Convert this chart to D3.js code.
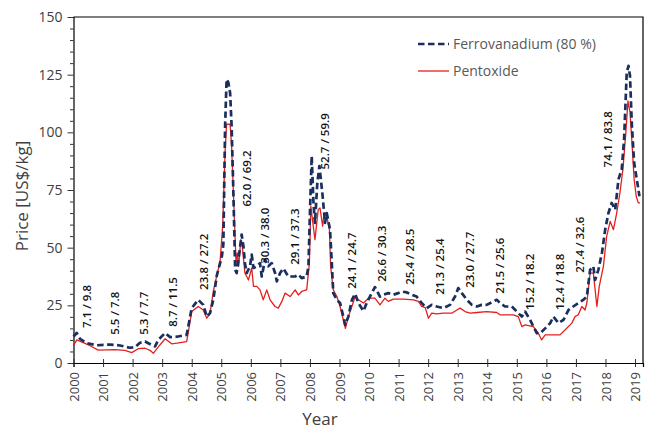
<!DOCTYPE html>
<html>
<head>
<meta charset="utf-8">
<script src="https://cdn.jsdelivr.net/npm/d3@7"></script>
<style>
  body { margin: 0; background: #fff; }
  svg { display: block; font-family: "Open Sans", sans-serif; }
</style>
</head>
<body>
<div id="chart"></div>
<script>
// decimal year, US$/kg
const ferro = [
    [2000.00, 11.5], [2000.11, 13], [2000.22, 10.5], [2000.45, 8.6], [2000.79, 7.7], [2001.24, 8.0],
    [2001.57, 7.6], [2001.91, 6.6], [2002.08, 6.9], [2002.25, 8.8], [2002.42, 9.3], [2002.65, 7.8],
    [2002.76, 7.2], [2002.87, 10], [2003.10, 13], [2003.27, 11.2], [2003.50, 11.4], [2003.83, 12.2],
    [2004.00, 23.8], [2004.22, 27.4], [2004.39, 25.2], [2004.51, 20.1], [2004.62, 21.6], [2004.73, 27.4],
    [2004.85, 38], [2005.02, 46.2], [2005.07, 51.3], [2005.13, 102.7], [2005.18, 123], [2005.24, 121.6],
    [2005.30, 117], [2005.35, 102.7], [2005.41, 73.8], [2005.47, 40.4], [2005.52, 39], [2005.64, 50.6],
    [2005.69, 55.7], [2005.75, 50.6], [2005.80, 43.3], [2005.86, 39], [2005.97, 41.9], [2006.03, 47],
    [2006.09, 41.2], [2006.20, 41.9], [2006.31, 43.3], [2006.37, 37.5], [2006.48, 44.8], [2006.59, 41.9],
    [2006.71, 43.3], [2006.82, 39], [2006.88, 35.4], [2006.99, 39], [2007.10, 41], [2007.27, 37.5],
    [2007.50, 37.5], [2007.61, 38.3], [2007.72, 36.8], [2007.89, 37.5], [2007.95, 42], [2008.00, 65],
    [2008.06, 89.7], [2008.12, 69.4], [2008.17, 60.7], [2008.25, 78], [2008.32, 85.4], [2008.37, 79.6],
    [2008.43, 72.3], [2008.51, 60.7], [2008.57, 65], [2008.68, 57.8], [2008.74, 43.3], [2008.79, 30.3],
    [2008.91, 27.4], [2009.02, 26], [2009.13, 20.1], [2009.19, 16.5], [2009.30, 20.1], [2009.42, 27.4],
    [2009.53, 30], [2009.64, 26], [2009.81, 22.5], [2009.92, 26], [2010.03, 28.8], [2010.20, 32.9],
    [2010.37, 28.8], [2010.48, 29.6], [2010.65, 30.3], [2010.82, 29.6], [2010.99, 30.3], [2011.11, 31],
    [2011.28, 30.6], [2011.45, 29.6], [2011.61, 28.8], [2011.78, 26], [2011.95, 23.8], [2012.12, 25.2],
    [2012.29, 24.5], [2012.51, 23.8], [2012.74, 25.2], [2012.91, 28.8], [2013.02, 32.5], [2013.14, 30.3],
    [2013.31, 27.4], [2013.48, 25.2], [2013.65, 24.5], [2013.81, 25.2], [2013.98, 25.2], [2014.21, 26.7],
    [2014.32, 27.4], [2014.43, 26], [2014.60, 24.5], [2014.83, 24.5], [2015.00, 22.3], [2015.17, 20.1],
    [2015.28, 22.3], [2015.45, 18.7], [2015.56, 15.8], [2015.68, 12.9], [2015.79, 12.9], [2015.96, 15],
    [2016.13, 17.3], [2016.24, 20.1], [2016.41, 17.3], [2016.58, 18.7], [2016.75, 23], [2016.91, 24.5],
    [2017.08, 26], [2017.25, 27.4], [2017.37, 28.8], [2017.48, 40.4], [2017.59, 41.9], [2017.65, 36],
    [2017.76, 40.4], [2017.88, 47.7], [2017.99, 57.8], [2018.10, 65], [2018.21, 69.4], [2018.33, 66.5],
    [2018.44, 79.6], [2018.55, 83.9], [2018.63, 97], [2018.72, 126], [2018.78, 128.8], [2018.83, 124.5],
    [2018.89, 104], [2018.97, 86.8], [2019.06, 79.6], [2019.15, 72.3]
];

const pentoxide = [
    [2000.00, 7.5], [2000.11, 10], [2000.33, 8.8], [2000.56, 7.5], [2000.84, 5.6], [2001.40, 5.8],
    [2001.74, 5.5], [2001.97, 4.5], [2002.19, 6.2], [2002.42, 6.4], [2002.59, 5.5], [2002.70, 4.2],
    [2002.87, 7], [2003.10, 10.5], [2003.32, 8.3], [2003.50, 8.6], [2003.83, 9.3], [2004.00, 22.3],
    [2004.22, 24.5], [2004.39, 23], [2004.51, 19.4], [2004.62, 21.6], [2004.73, 31], [2004.85, 38],
    [2004.96, 44], [2005.05, 60], [2005.13, 92], [2005.18, 103.5], [2005.30, 103.5], [2005.35, 94],
    [2005.41, 73.8], [2005.50, 43.3], [2005.54, 47.7], [2005.59, 42], [2005.66, 53.5], [2005.70, 52],
    [2005.80, 39], [2005.92, 36], [2006.03, 41.2], [2006.09, 33.2], [2006.20, 33.2], [2006.31, 31.7],
    [2006.42, 27.4], [2006.54, 31.7], [2006.65, 27.4], [2006.82, 24.5], [2006.93, 23.8], [2007.05, 26.7],
    [2007.16, 30.3], [2007.33, 28.8], [2007.50, 31.7], [2007.61, 29.5], [2007.72, 31], [2007.89, 31.7],
    [2007.98, 43], [2008.03, 68], [2008.10, 60.7], [2008.17, 53.5], [2008.28, 66.5], [2008.34, 67.2],
    [2008.43, 59.3], [2008.48, 65], [2008.57, 63.6], [2008.66, 57.8], [2008.70, 41.9], [2008.79, 31.7],
    [2008.91, 28.8], [2009.02, 24.5], [2009.13, 18.7], [2009.20, 15], [2009.30, 20.1], [2009.42, 24.5],
    [2009.53, 28.8], [2009.64, 27.4], [2009.81, 26], [2009.98, 28.1], [2010.20, 28.1], [2010.37, 25.2],
    [2010.54, 28.1], [2010.65, 26.7], [2010.82, 27.7], [2011.16, 27.7], [2011.50, 27.4], [2011.67, 26.7],
    [2011.78, 24.5], [2011.90, 24], [2012.01, 19.4], [2012.12, 21.6], [2012.29, 21.3], [2012.51, 21.6],
    [2012.80, 21.6], [2012.97, 23], [2013.08, 23.8], [2013.25, 22.3], [2013.42, 21.6], [2013.65, 21.9],
    [2013.98, 22.3], [2014.32, 21.9], [2014.43, 20.9], [2014.88, 20.9], [2015.05, 20.1], [2015.17, 15.8],
    [2015.28, 16.5], [2015.56, 15.8], [2015.73, 12.9], [2015.84, 10], [2015.96, 12.2], [2016.46, 12.2],
    [2016.63, 14.3], [2016.86, 17.3], [2016.97, 20.1], [2017.08, 20.9], [2017.20, 24.5], [2017.31, 23],
    [2017.37, 26], [2017.48, 39], [2017.59, 39], [2017.71, 24.5], [2017.79, 33.2], [2017.93, 41.9],
    [2018.04, 54.9], [2018.16, 61.4], [2018.27, 57.8], [2018.38, 65], [2018.49, 73.8], [2018.59, 83.9],
    [2018.69, 99.9], [2018.76, 113.6], [2018.83, 108.6], [2018.89, 97], [2018.97, 79.6], [2019.04, 72.3],
    [2019.11, 69.4], [2019.17, 69.4]
];

// yearly averages, pentoxide / ferrovanadium
const averages = [
    "7.1 / 9.8", "5.5 / 7.8", "5.3 / 7.7", "8.7 / 11.5", "23.8 / 27.2", "62.0 / 69.2", "30.3 / 38.0",
    "29.1 / 37.3", "52.7 / 59.9", "24.1 / 24.7", "26.6 / 30.3", "25.4 / 28.5", "21.3 / 25.4", "23.0 / 27.7",
    "21.5 / 25.6", "15.2 / 18.2", "12.4 / 18.8", "27.4 / 32.6", "74.1 / 83.8"
];
// where each average label sits (decimal year, price at the start of the text)
const averagePos = [
    [2000.45, 15.2], [2001.40, 12.2], [2002.39, 12.2], [2003.37, 15.7], [2004.42, 31.7], [2005.86, 67.8],
    [2006.48, 43], [2007.50, 42.6], [2008.51, 83.9], [2009.42, 32.2], [2010.43, 35.2], [2011.39, 33.9],
    [2012.40, 29.6], [2013.42, 32.6], [2014.43, 30], [2015.45, 23], [2016.46, 23], [2017.14, 39.1],
    [2018.09, 84.8]
];

const years = d3.range(2000, 2020);
const seriesNames = ["Ferrovanadium (80 %)", "Pentoxide"];

const width = 646, height = 431;
const plot = {left: 73.5, right: 643, top: 17, bottom: 363};

const svg = d3.select("#chart").append("svg")
    .attr("width", width)
    .attr("height", height);

const x = d3.scaleLinear().domain([2000, 2019.27]).range([plot.left, plot.right]);
const y = d3.scaleLinear().domain([0, 150]).range([plot.bottom, plot.top]);

// frame top + right
svg.append("path")
    .attr("d", `M${plot.left},${plot.top}H${plot.right}V${plot.bottom}`)
    .attr("fill", "none")
    .attr("stroke", "#000")
    .attr("stroke-width", 1.2);

// y axis
const yAxis = svg.append("g")
    .attr("transform", `translate(${plot.left},0)`)
    .call(d3.axisLeft(y)
        .tickValues(d3.range(0, 151, 5))
        .tickFormat(d => d % 25 === 0 ? d : "")
        .tickSize(5)
        .tickPadding(6));
yAxis.select(".domain").attr("stroke", "#000").attr("stroke-width", 1.2);
yAxis.selectAll(".tick line")
    .attr("stroke", "#333")
    .attr("x2", d => d % 25 === 0 ? -6 : -3.5);
yAxis.selectAll(".tick text")
    .attr("font-size", 14)
    .attr("font-family", "Open Sans")
    .attr("fill", "#404040");

// x axis
const xAxis = svg.append("g")
    .attr("transform", `translate(0,${plot.bottom})`)
    .call(d3.axisBottom(x)
        .tickValues(years)
        .tickFormat(d3.format("d"))
        .tickSize(4));
xAxis.select(".domain").attr("stroke", "#000").attr("stroke-width", 1.2);
xAxis.selectAll(".tick line")
    .attr("stroke", "#333")
    .attr("y1", -4)
    .attr("y2", 4);
xAxis.selectAll(".tick text")
    .attr("transform", "rotate(-90)")
    .attr("text-anchor", "end")
    .attr("x", -9)
    .attr("y", 0)
    .attr("dy", "0.35em")
    .attr("font-size", 13)
    .attr("font-family", "Open Sans")
    .attr("fill", "#404040");

svg.append("text")
    .attr("x", 320)
    .attr("y", 425)
    .attr("text-anchor", "middle")
    .attr("font-size", 17)
    .attr("fill", "#404040")
    .text("Year");

svg.append("text")
    .attr("transform", "translate(22,196) rotate(-90)")
    .attr("text-anchor", "middle")
    .attr("dy", "0.35em")
    .attr("font-size", 17)
    .attr("fill", "#404040")
    .text("Price [US$/kg]");

const line = d3.line()
    .x(d => x(d[0]))
    .y(d => y(d[1]));

svg.append("path")
    .datum(pentoxide)
    .attr("fill", "none")
    .attr("stroke", "#e3201e")
    .attr("stroke-width", 1.3)
    .attr("stroke-linejoin", "round")
    .attr("d", line);

svg.append("path")
    .datum(ferro)
    .attr("fill", "none")
    .attr("stroke", "#1b2f5e")
    .attr("stroke-width", 2.7)
    .attr("stroke-dasharray", "6.5,3.5")
    .attr("stroke-linejoin", "round")
    .attr("d", line);

// yearly average labels
svg.append("g")
    .selectAll("text")
    .data(averages)
    .join("text")
    .attr("transform", (d, i) => `translate(${x(averagePos[i][0])},${y(averagePos[i][1])}) rotate(-90)`)
    .attr("dy", "0.35em")
    .attr("font-size", 11.5)
    .attr("font-weight", 600)
    .attr("fill", "#111")
    .text(d => d);

// legend
const legend = svg.append("g").attr("transform", "translate(418,44)");
legend.append("line")
    .attr("x1", 0).attr("x2", 31).attr("y1", 0).attr("y2", 0)
    .attr("stroke", "#1b2f5e")
    .attr("stroke-width", 2.7)
    .attr("stroke-dasharray", "6.5,3.5");
legend.append("line")
    .attr("x1", 0).attr("x2", 31).attr("y1", 27).attr("y2", 27)
    .attr("stroke", "#e3201e")
    .attr("stroke-width", 1.3);
legend.selectAll("text")
    .data(seriesNames)
    .join("text")
    .attr("x", 35)
    .attr("y", (d, i) => i * 27)
    .attr("dy", "0.35em")
    .attr("font-size", 14)
    .attr("fill", "#595959")
    .text(d => d);
</script>
</body>
</html>
